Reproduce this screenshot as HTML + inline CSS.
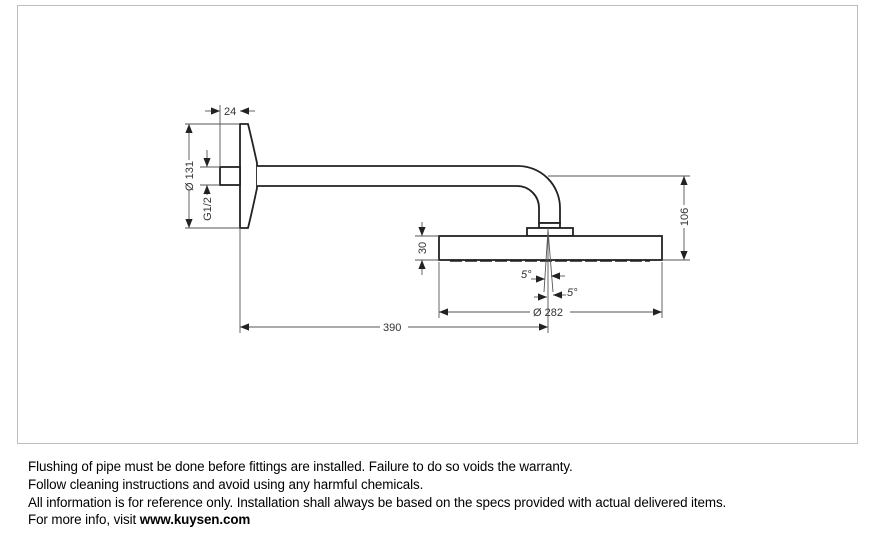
<!DOCTYPE html>
<html><head><style>
body{margin:0;width:873px;height:540px;background:#fff;position:relative;font-family:"Liberation Sans",sans-serif;overflow:hidden}
.box{position:absolute;left:17px;top:5px;width:839px;height:437px;border:1px solid #bdbdbd}
.t{position:absolute;left:28px;font-size:13.4px;color:#000;white-space:nowrap;letter-spacing:-0.1px}
</style></head><body>
<div class="box"></div>
<svg width="873" height="540" style="position:absolute;left:0;top:0" font-family="Liberation Sans,sans-serif" font-size="11" fill="none">
<defs><marker id="a" viewBox="0 0 10 10" refX="10" refY="5" markerWidth="10" markerHeight="9" markerUnits="userSpaceOnUse" orient="auto-start-reverse"><path d="M0,1L10,5L0,9z" fill="#222"/></marker></defs>
<g stroke="#222" stroke-width="1.8">
<path d="M240,124H248Q252,140 257,163V188Q252,212 248,228H240Z" fill="#fff"/>
<rect x="220" y="167" width="20" height="18" fill="#fff"/>
<path d="M257,166H518A42,42 0 0 1 560,208V223H539V208A22,22 0 0 0 517,186H257" fill="#fff"/>
<rect x="539" y="223" width="21" height="5" fill="#fff"/>
<rect x="527" y="228" width="46" height="8" fill="#fff"/>
<rect x="439" y="236" width="223" height="24" fill="#fff"/>
<path d="M450,261H650" stroke-dasharray="12,3" stroke-width="1.5"/>
</g>
<g stroke="#555" stroke-width="0.9">
<path d="M240,228V333M220,105V167M185,124H240M185,228H240M200,167H220M200,185H220M548,228V333M548,176H690M662,260H690M415,236H439M415,260H439M439,262V318M662,262V318"/>
<path d="M548,230L544,292M548,230L553,292"/>
<path d="M205,111H220" marker-end="url(#a)"/><path d="M255,111H240" marker-end="url(#a)"/>
<path d="M189,160V124" marker-end="url(#a)"/><path d="M189,190V228" marker-end="url(#a)"/>
<path d="M207,150V167" marker-end="url(#a)"/><path d="M207,195V185" marker-end="url(#a)"/>
<path d="M422,222V236" marker-end="url(#a)"/><path d="M422,275V260" marker-end="url(#a)"/>
<path d="M684,205V176" marker-end="url(#a)"/><path d="M684,228V260" marker-end="url(#a)"/>
<path d="M530,312H439" marker-end="url(#a)"/><path d="M570,312H662" marker-end="url(#a)"/>
<path d="M380,327H240" marker-end="url(#a)"/><path d="M408,327H548" marker-end="url(#a)"/>
<path d="M531,279H545" marker-end="url(#a)"/><path d="M565,276H551" marker-end="url(#a)"/>
<path d="M534,297H547" marker-end="url(#a)"/><path d="M566,295H553" marker-end="url(#a)"/>
</g>
<g fill="#333" stroke="none">
<text x="224" y="115">24</text>
<text x="383" y="331">390</text>
<text x="533" y="316">Ø 282</text>
<text transform="translate(193,176) rotate(-90)" text-anchor="middle">Ø 131</text>
<text transform="translate(211,209) rotate(-90)" text-anchor="middle">G1/2</text>
<text transform="translate(426,248) rotate(-90)" text-anchor="middle">30</text>
<text transform="translate(688,217) rotate(-90)" text-anchor="middle">106</text>
<text x="521" y="278" font-style="italic">5°</text>
<text x="567" y="296" font-style="italic">5°</text>
</g>
</svg>
<div class="t" style="top:459px">Flushing of pipe must be done before fittings are installed. Failure to do so voids the warranty.</div>
<div class="t" style="top:477px">Follow cleaning instructions and avoid using any harmful chemicals.</div>
<div class="t" style="top:495px">All information is for reference only. Installation shall always be based on the specs provided with actual delivered items.</div>
<div class="t" style="top:512px">For more info, visit <b>www.kuysen.com</b></div>
</body></html>
